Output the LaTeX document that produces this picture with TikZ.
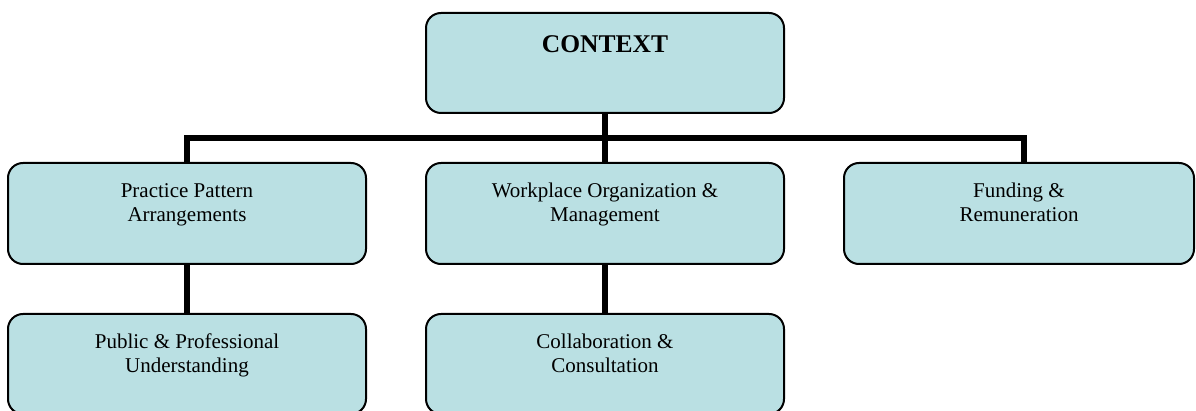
\documentclass[tikz,border=0pt]{standalone}
\usepackage{fontspec}
\setmainfont{Liberation Serif}
\definecolor{boxfill}{RGB}{186,224,227}
\begin{document}
\begin{tikzpicture}[x=1pt,y=-1pt,
  box/.style={draw=black,line width=2pt,fill=boxfill,rounded corners=15pt,
    minimum width=358pt,minimum height=101pt,inner sep=0pt,anchor=north west},
  lbl/.style={anchor=north,inner sep=0pt,align=center,
    font=\fontsize{21}{24}\selectfont},
  conn/.style={draw=black,line width=5.5pt,line cap=butt,line join=miter}]
\useasboundingbox (0,0) rectangle (1196,411);

% boxes
\node[box,minimum height=100pt] (ctx) at (425,12) {};
\node[box] (ppa) at (7,162) {};
\node[box] (wom) at (425,162) {};
\node[box,minimum width=350pt] (fr) at (843,162) {};
\node[box,minimum height=100pt] (ppu) at (7,313) {};
\node[box,minimum height=100pt] (cc) at (425,313) {};

% connectors
\coordinate (barY) at (0,138);
\draw[conn] (ppa.north) |- (ctx.south |- barY) -| ([xshift=5pt]fr.north);
\draw[conn] (ctx.south) -- (wom.north);
\draw[conn] (ppa.south) -- (ppu.north);
\draw[conn] (wom.south) -- (cc.north);

% labels
\node[lbl,font=\bfseries\fontsize{25.5}{30}\selectfont] (ctxT) at ([yshift=-23pt]ctx.north) {CONTEXT};
\node[lbl] (ppaT) at ([yshift=-21pt]ppa.north) {Practice Pattern\\Arrangements};
\node[lbl] (womT) at ([yshift=-21pt]wom.north) {Workplace Organization \&\\Management};
\node[lbl] (frT) at ([yshift=-21pt]fr.north) {Funding \&\\Remuneration};
\node[lbl] (ppuT) at ([yshift=-21pt]ppu.north) {Public \& Professional\\Understanding};
\node[lbl] (ccT) at ([yshift=-21pt]cc.north) {Collaboration \&\\Consultation};
\end{tikzpicture}
\end{document}
